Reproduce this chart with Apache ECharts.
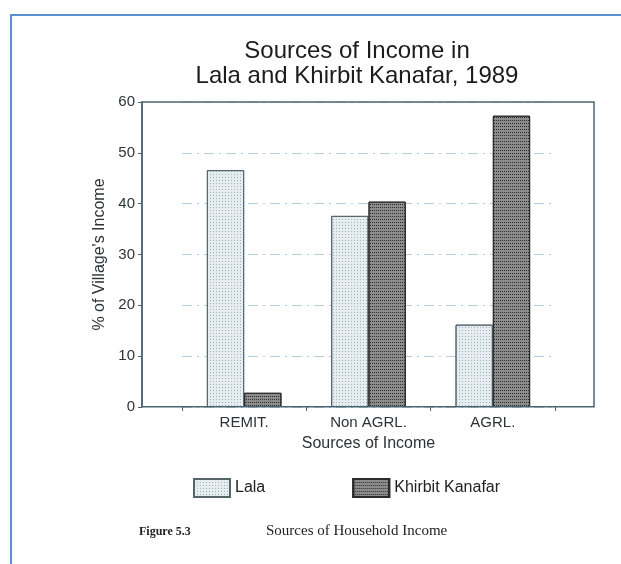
<!DOCTYPE html>
<html>
<head>
<meta charset="utf-8">
<script src="https://cdn.jsdelivr.net/npm/echarts@6/dist/echarts.min.js"></script>
<style>
  html, body { margin: 0; padding: 0; background: #fff; }
  #chart { width: 621px; height: 564px; }
</style>
</head>
<body>
<div id="chart"></div>
<script>
(function() {
    'use strict';

    // data
    var categories = ['REMIT.', 'Non AGRL.', 'AGRL.'];
    var lala = [46.6, 37.6, 16.2];
    var khirbit = [2.8, 40.4, 57.3];
    var yTicks = [0, 10, 20, 30, 40, 50, 60];

    var ink = '#2b3338';
    var frame = '#4d6470';

    var myChart = echarts.init(document.getElementById('chart'));

    var option = {
        backgroundColor: '#fff',
        animation: false,
        title: {
            text: 'Sources of Income in\nLala and Khirbit Kanafar, 1989',
            left: 352,
            top: 34,
            textAlign: 'center',
            textStyle: {
                fontFamily: 'Liberation Sans',
                fontSize: 24,
                fontWeight: 'normal',
                lineHeight: 25,
                color: '#1c1c1c'
            }
        },
        legend: {
            data: ['Lala', 'Khirbit Kanafar'],
            left: 188,
            top: 473,
            itemWidth: 36,
            itemHeight: 18,
            itemGap: 87,
            icon: 'rect',
            textStyle: {
                fontFamily: 'Liberation Sans',
                fontSize: 16,
                color: '#222'
            }
        },
        grid: {
            left: 182,
            right: 66,
            top: 102,
            bottom: 157
        },
        xAxis: {
            type: 'category',
            data: categories,
            name: 'Sources of Income',
            nameLocation: 'middle',
            nameGap: 29,
            nameTextStyle: {
                fontFamily: 'Liberation Sans',
                fontSize: 16,
                color: ink
            },
            axisLine: { show: false },
            axisTick: {
                show: true,
                length: 4,
                lineStyle: { color: frame }
            },
            axisLabel: {
                margin: 8,
                fontFamily: 'Liberation Sans',
                fontSize: 15,
                color: ink
            }
        },
        yAxis: {
            type: 'value',
            min: yTicks[0],
            max: yTicks[yTicks.length - 1],
            interval: 10,
            offset: 40,
            name: "% of Village's Income",
            nameLocation: 'middle',
            nameGap: 34,
            nameTextStyle: {
                fontFamily: 'Liberation Sans',
                fontSize: 16,
                color: ink
            },
            axisLine: { show: true, lineStyle: { color: frame, width: 1.5 } },
            axisTick: { show: true, length: 4, lineStyle: { color: frame } },
            axisLabel: {
                margin: 7,
                fontFamily: 'Liberation Sans',
                fontSize: 15,
                color: ink
            },
            splitLine: {
                show: true,
                lineStyle: {
                    color: '#b4cedd',
                    width: 1,
                    type: [10, 5, 2, 5]
                }
            }
        },
        series: [
            {
                name: 'Lala',
                type: 'bar',
                data: lala,
                barGap: '0%',
                barCategoryGap: '40%',
                itemStyle: {
                    color: '#e6edf0',
                    borderColor: '#55646b',
                    borderWidth: 1,
                    decal: {
                        symbol: 'rect',
                        symbolSize: 1,
                        dashArrayX: [1, 2],
                        dashArrayY: [1, 2],
                        color: '#9fb2bb'
                    }
                }
            },
            {
                name: 'Khirbit Kanafar',
                type: 'bar',
                data: khirbit,
                itemStyle: {
                    color: '#8c8c8c',
                    borderColor: '#2a2a2a',
                    borderWidth: 1,
                    decal: {
                        symbol: 'rect',
                        symbolSize: 1,
                        dashArrayX: [1, 1],
                        dashArrayY: [1, 2],
                        color: '#2e2e2e'
                    }
                }
            }
        ],
        graphic: [
            {
                // scanned page border (left and top visible)
                type: 'rect',
                shape: { x: 11, y: 15, width: 640, height: 600 },
                style: { fill: null, stroke: '#5b8fd0', lineWidth: 2 },
                silent: true
            },
            {
                // plot frame
                type: 'rect',
                shape: { x: 142, y: 102, width: 452, height: 304.7 },
                style: { fill: null, stroke: frame, lineWidth: 1.5 },
                silent: true,
                z: 10
            },
            {
                type: 'text',
                left: 139,
                top: 526,
                style: {
                    text: 'Figure 5.3',
                    font: 'bold 12px "Liberation Serif"',
                    fill: '#222'
                }
            },
            {
                type: 'text',
                left: 266,
                top: 524,
                style: {
                    text: 'Sources of Household Income',
                    font: '15px "Liberation Serif"',
                    fill: '#222'
                }
            }
        ]
    };

    myChart.setOption(option);
})();
</script>
</body>
</html>
